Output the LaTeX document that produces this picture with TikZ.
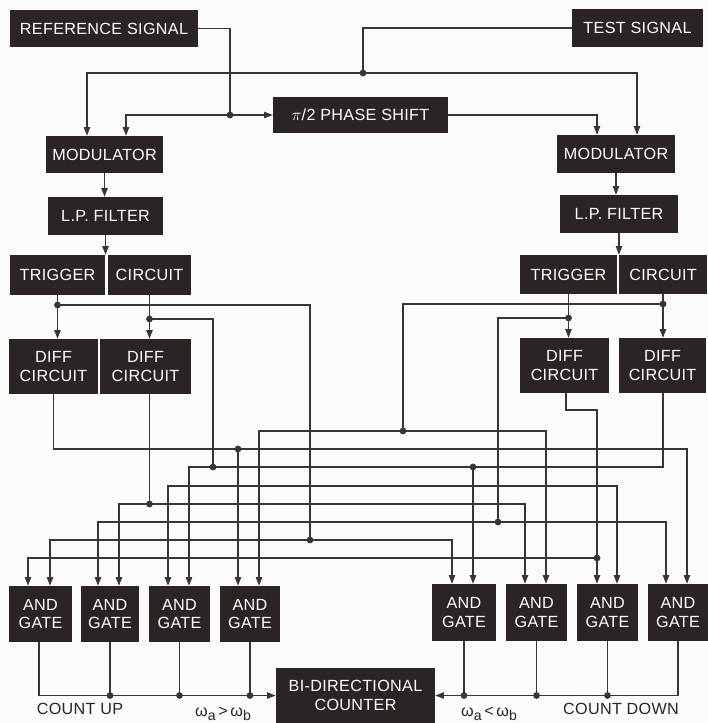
\documentclass[tikz,border=0pt]{standalone}
\usepackage{fontspec}
\setmainfont{Liberation Sans}
\newfontfamily\boxfont[LetterSpace=2]{Liberation Sans}
\usepackage{tikz}
\usetikzlibrary{arrows.meta,positioning}
\definecolor{boxfill}{HTML}{2A2522}
\definecolor{wirecol}{HTML}{3A3532}
\definecolor{paper}{HTML}{FBFBF9}
\newcommand{\pxu}{0.03cm}
\newcommand{\omsub}[1]{ω\raisebox{-0.45ex}{\fontsize{12}{14}\selectfont #1}}

\begin{document}
\begin{tikzpicture}[x=\pxu,y=-\pxu,
    >={Triangle[length=2.6mm,width=1.9mm]},
    blk/.style 2 args={fill=boxfill, text=white, font=\boxfont\fontsize{13.8}{16}\selectfont,
        align=center, inner sep=0pt, minimum width={#1*\pxu}, minimum height={#2*\pxu}},
    wire/.style={draw=wirecol, line width=1.1pt},
    arr/.style={wire, ->},
    lbl/.style={text=boxfill, font=\boxfont\fontsize{13.8}{16}\selectfont},
    dot/.style={fill=wirecol}]
    \fill[paper] (0,0) rectangle (708,723);
    \useasboundingbox (0,0) rectangle (708,723);

    % blocks
    \node[blk={188}{37}] (refsig) at (104,28.5) {REFERENCE SIGNAL};
    \node[blk={131}{38}] (testsig) at (637.5,28) {TEST SIGNAL};
    \node[blk={175}{36}] (phase) at (360.5,115) {$\pi$/2 PHASE SHIFT};
    \node[blk={117}{37}] (modL) at (104.5,154.5) {MODULATOR};
    \node[blk={118}{38}] (modR) at (616,154) {MODULATOR};
    \node[blk={115}{38}] (lpL) at (105.5,216) {L.P. FILTER};
    \node[blk={118}{38}] (lpR) at (619,214) {L.P. FILTER};
    \node[blk={95}{40}] (trigL) at (57.5,275) {TRIGGER};
    \node[blk={83}{40}] (circL) at (149.5,275) {CIRCUIT};
    \node[blk={97}{39}] (trigR) at (568.5,274.5) {TRIGGER};
    \node[blk={88}{39}] (circR) at (663,274.5) {CIRCUIT};
    \node[blk={89}{55}] (diffL1) at (53.5,366.5) {DIFF\\CIRCUIT};
    \node[blk={91}{55}] (diffL2) at (145.5,366.5) {DIFF\\CIRCUIT};
    \node[blk={89}{55}] (diffR1) at (564.5,365.5) {DIFF\\CIRCUIT};
    \node[blk={87}{55}] (diffR2) at (662.5,365.5) {DIFF\\CIRCUIT};
    \foreach \n/\x/\w in {andL1/40.5/63, andL2/110/58, andL3/179.5/61, andL4/250/60}
        \node[blk={\w}{56}] (\n) at (\x,614) {AND\\GATE};
    \foreach \n/\x/\w in {andR1/464/64, andR2/536.5/61, andR3/607.5/61, andR4/678/60}
        \node[blk={\w}{57}] (\n) at (\x,612.5) {AND\\GATE};
    \node[blk={159}{55}] (counter) at (355.5,695.5) {BI-DIRECTIONAL\\COUNTER};

    \node[lbl] (cup) at (80,709) {COUNT UP};
    \node[lbl] (gt) at (223,714) {\omsub{a}\,>\,\omsub{b}};
    \node[lbl] (lt) at (489,714) {\omsub{a}\,<\,\omsub{b}};
    \node[lbl] (cdown) at (621,709) {COUNT DOWN};

    % junctions
    \coordinate (jref) at (230,115);
    \coordinate (jtest) at (363,73);
    \coordinate (jT1) at (57.5,305);
    \coordinate (jT1c) at (310,540);
    \coordinate (jC1) at (149.5,319);
    \coordinate (jC1c) at (213,467);
    \coordinate (jD1) at (238,449);
    \coordinate (jD1p) at (149.5,504);
    \coordinate (jT2) at (568.5,318);
    \coordinate (jT2c) at (498,522);
    \coordinate (jC2) at (663,304);
    \coordinate (jC2c) at (403,431);
    \coordinate (jD2) at (597,558);
    \coordinate (jD2p) at (473,467);

    % inputs
    \draw[wire] (refsig.east) -| (jref);
    \draw[arr] (jref) -- (phase.west);
    \draw[arr] (jref) -| (126,0 |- modL.north);
    \draw[wire] (testsig.west) -| (jtest);
    \draw[arr] (jtest) -| (87,0 |- modL.north);
    \draw[arr] (jtest) -| (637,0 |- modR.north);
    \draw[arr] (phase.east) -| (597,0 |- modR.north);

    \draw[arr] (modL.south) -- (modL.south |- lpL.north);
    \draw[arr] (lpL.south) -- (lpL.south |- trigL.north);
    \draw[arr] (modR.south) -- (modR.south |- lpR.north);
    \draw[arr] (lpR.south) -- (lpR.south |- trigR.north);

    % trigger outputs
    \draw[arr] (trigL.south) -- (trigL.south |- diffL1.north);
    \draw[arr] (circL.south) -- (circL.south |- diffL2.north);
    \draw[arr] (trigR.south) -- (trigR.south |- diffR1.north);
    \draw[arr] (circR.south) -- (circR.south |- diffR2.north);
    \draw[wire] (jT1) -| (jT1c);
    \draw[wire] (jC1) -| (jC1c);
    \draw[wire] (jT2) -| (jT2c);
    \draw[wire] (jC2) -| (jC2c);

    % diff outputs
    \draw[wire] (diffL1.south) |- (jD1);
    \draw[wire] (jD1p |- diffL2.south) -- (jD1p);
    \draw[wire] (566,0 |- diffR1.south) |- (597,410) -- (jD2);
    \draw[wire] (663,0 |- diffR2.south) |- (jC1c);

    % to the and gates
    \draw[arr] (jT1c) -| (50,0 |- andL1.north);
    \draw[arr] (jT1c) -| (452,0 |- andR1.north);
    \draw[arr] (jD2) -| (28,0 |- andL1.north);
    \draw[arr] (jD2) -- (jD2 |- andR3.north);
    \draw[arr] (jT2c) -| (98,0 |- andL2.north);
    \draw[arr] (jT2c) -| (666,0 |- andR4.north);
    \draw[arr] (jD1p) -| (119,0 |- andL2.north);
    \draw[arr] (jD1p) -| (525,0 |- andR2.north);
    \draw[arr] (jC1c) -| (189,0 |- andL3.north);
    \draw[arr] (jD2p) -- (jD2p |- andR1.north);
    \draw[wire, <->] (168,0 |- andL3.north) |- (617,486) -- (617,0 |- andR3.north);
    \draw[arr] (jD1) -- (jD1 |- andL4.north);
    \draw[arr] (jD1) -| (687,0 |- andR4.north);
    \draw[arr] (jC2c) -| (259,0 |- andL4.north);
    \draw[arr] (jC2c) -| (546,0 |- andR2.north);

    % to the counter
    \draw[arr] (39,0 |- andL1.south) |- (counter.west);
    \draw[arr] (andR4.south) |- (counter.east);
    \foreach \g in {andL2,andL3,andL4,andR1,andR2,andR3} {
        \draw[wire] (\g.south) -- (\g.south |- counter.west);
        \fill[dot] (\g.south |- counter.west) circle (2.9pt);
    }
    \foreach \j in {jref,jtest,jT1,jT1c,jC1,jC1c,jD1,jD1p,jT2,jT2c,jC2,jC2c,jD2,jD2p}
        \fill[dot] (\j) circle (2.9pt);
\end{tikzpicture}
\end{document}
